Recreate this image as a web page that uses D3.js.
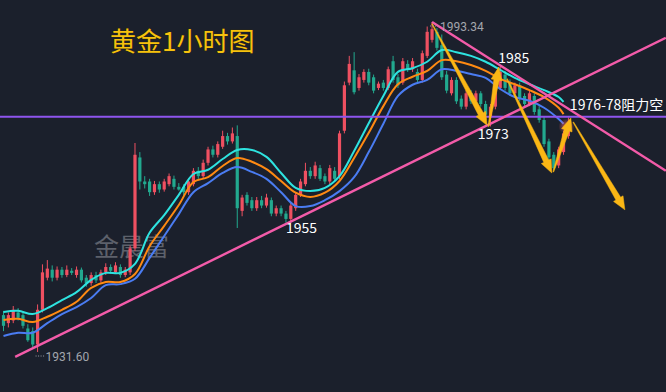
<!DOCTYPE html>
<html>
<head>
<meta charset="utf-8">
<script src="https://cdn.jsdelivr.net/npm/d3@7"></script>
<style>
  html, body { margin: 0; padding: 0; background: #1b202c; }
  svg { display: block; }
</style>
</head>
<body>
<div id="chart"></div>
<script>
// candles, 1 hour, red = up, green = down
const opens = [1938.5,1937.0,1937.5,1939.0,1938.5,1936.0,1935.5,1933.0,1939.5,1945.5,
  1947.0,1945.5,1947.0,1946.0,1946.8,1946.0,1947.0,1945.5,1944.5,1946.0,
  1945.0,1946.5,1947.5,1946.5,1947.5,1946.0,1946.5,1951.0,1968.0,1963.5,
  1963.5,1961.5,1963.0,1962.0,1963.0,1964.0,1962.5,1962.5,1961.5,1963.0,
  1965.5,1964.5,1967.0,1969.5,1968.5,1970.0,1972.0,1971.0,1972.0,1958.0,
  1961.0,1960.0,1958.5,1960.0,1959.0,1960.0,1957.5,1958.5,1957.5,1956.5,
  1958.5,1961.0,1963.0,1965.5,1964.5,1966.0,1964.5,1963.5,1965.5,1964.5,
  1973.0,1982.0,1984.3,1981.0,1982.5,1984.0,1983.0,1981.0,1982.0,1981.0,
  1986.0,1983.0,1982.0,1985.5,1984.5,1984.0,1982.5,1987.0,1990.0,1991.5,
  1989.0,1983.5,1980.0,1982.5,1979.0,1977.5,1980.0,1978.5,1980.0,1978.0,
  1975.5,1977.5,1981.0,1983.5,1982.0,1980.0,1981.5,1979.5,1978.0,1979.5,
  1977.0,1975.0,1971.0,1968.5,1966.5,1969.0,1972.0];
const highs = [1939.3,1939.0,1940.2,1939.8,1939.0,1936.8,1936.2,1940.5,1948.0,1948.8,
  1947.8,1947.6,1947.5,1947.8,1947.3,1947.6,1947.4,1946.0,1946.5,1946.6,
  1947.0,1948.2,1948.0,1948.4,1948.0,1947.5,1951.5,1970.7,1969.0,1964.5,
  1964.0,1963.6,1963.5,1964.0,1965.0,1964.6,1963.2,1963.0,1964.0,1966.0,
  1966.2,1967.6,1970.0,1970.2,1971.0,1973.0,1972.6,1973.6,1974.0,1961.0,
  1961.5,1960.6,1960.6,1960.8,1961.2,1960.5,1959.0,1959.0,1958.0,1959.5,
  1961.5,1964.0,1967.0,1966.2,1967.2,1966.6,1965.0,1966.6,1966.2,1973.0,
  1982.2,1987.0,1987.7,1983.6,1984.5,1984.6,1983.5,1982.2,1982.5,1985.0,
  1987.0,1983.6,1986.6,1986.2,1986.6,1984.6,1988.0,1992.5,1993.34,1992.2,
  1991.0,1984.2,1983.0,1983.0,1979.6,1980.6,1980.6,1980.5,1980.4,1978.6,
  1978.0,1981.5,1985.0,1984.2,1982.6,1982.0,1982.0,1980.0,1980.5,1980.0,
  1977.6,1975.6,1971.5,1969.0,1970.0,1973.0,1975.5];
const lows = [1935.5,1936.2,1937.0,1937.5,1936.0,1933.5,1932.5,1931.6,1939.0,1945.0,
  1944.8,1945.0,1945.5,1945.6,1946.0,1945.5,1944.6,1943.8,1944.0,1944.5,
  1944.6,1946.0,1946.3,1946.2,1945.5,1945.6,1946.0,1950.5,1962.0,1962.2,
  1960.8,1961.0,1961.4,1961.6,1962.6,1962.0,1961.8,1960.8,1961.0,1962.6,
  1964.0,1964.0,1966.5,1968.0,1968.0,1969.6,1970.4,1970.6,1954.8,1957.0,
  1959.0,1958.0,1958.0,1958.5,1958.6,1957.0,1957.0,1957.0,1955.8,1956.0,
  1958.0,1960.6,1962.6,1964.0,1964.0,1963.6,1963.0,1963.0,1963.5,1964.0,
  1972.5,1981.5,1979.8,1980.5,1982.0,1981.5,1980.0,1980.6,1980.5,1980.6,
  1982.0,1981.0,1981.6,1984.0,1984.0,1982.0,1982.0,1986.6,1989.5,1988.0,
  1982.5,1980.0,1979.6,1978.0,1977.0,1977.0,1978.0,1978.0,1977.5,1975.0,
  1973.8,1977.0,1980.6,1980.5,1979.5,1979.5,1978.5,1977.5,1977.6,1976.0,
  1974.5,1970.0,1966.5,1965.6,1966.0,1968.5,1971.5];
const closes = [1936.5,1938.5,1939.5,1938.0,1936.5,1933.8,1933.0,1939.5,1946.5,1947.2,
  1945.5,1947.0,1946.0,1947.0,1946.4,1947.0,1945.0,1944.5,1946.0,1945.0,
  1946.5,1947.5,1946.8,1947.8,1946.0,1947.0,1951.0,1968.5,1963.5,1963.0,
  1961.5,1963.0,1962.0,1963.5,1964.5,1962.5,1962.0,1961.5,1963.5,1965.5,
  1964.5,1967.0,1969.5,1968.5,1970.5,1972.0,1971.0,1972.5,1958.5,1960.5,
  1959.5,1958.5,1960.0,1959.0,1960.5,1957.5,1958.5,1957.5,1956.5,1959.0,
  1961.0,1963.5,1965.5,1964.5,1966.5,1964.0,1963.5,1966.0,1964.0,1972.5,
  1981.5,1985.5,1980.2,1983.0,1984.0,1982.0,1980.5,1981.8,1981.0,1984.5,
  1982.5,1981.5,1986.0,1984.5,1986.0,1982.5,1987.5,1991.5,1992.0,1988.5,
  1983.0,1980.5,1982.5,1978.5,1977.5,1980.0,1978.5,1980.0,1978.0,1976.0,
  1977.5,1981.0,1984.0,1981.0,1980.0,1981.5,1979.0,1978.0,1980.0,1976.5,
  1975.0,1970.5,1968.0,1966.0,1969.5,1972.5,1974.5];

// moving averages at these candle indices
const maIndex = [0,3,6,9,12,15,18,21,24,27,30,33,36,39,42,45,48,51,54,57,
  60,63,66,69,72,75,78,81,84,87,90,93,96,99,102,105,108,111,114,115];
const maFast = [1939.1,1939.3,1938.7,1939.8,1941.3,1942.8,1945.1,1946.4,1946.4,1948.1,
  1953.9,1957.2,1961.0,1964.9,1965.7,1967.7,1969.4,1969.4,1968.1,1965.1,
  1962.3,1961.7,1962.3,1964.5,1969.2,1974.4,1979.5,1984.0,1984.7,1985.9,
  1988.1,1987.7,1987.0,1985.9,1984.4,1982.9,1981.7,1980.6,1979.3,1978.4];
const maMid = [1937.6,1937.8,1937.2,1938.2,1939.5,1941.0,1943.6,1944.7,1944.7,1946.2,
  1951.4,1955.2,1959.1,1963.4,1964.3,1966.4,1967.9,1967.2,1965.8,1963.6,
  1961.4,1960.6,1961.4,1963.6,1967.9,1972.6,1977.6,1981.7,1983.1,1984.2,
  1986.2,1986.0,1985.3,1984.2,1982.7,1981.7,1980.6,1979.3,1977.3,1976.1];
const maSlow = [1934.6,1935.2,1935.2,1937.0,1938.7,1940.0,1941.7,1944.1,1944.3,1945.3,
  1949.2,1953.3,1957.4,1961.5,1963.2,1965.1,1966.2,1965.3,1964.0,1961.5,
  1958.9,1958.9,1960.0,1961.7,1964.3,1969.0,1974.3,1979.5,1981.6,1982.5,
  1984.5,1984.2,1983.6,1982.9,1980.8,1979.3,1978.6,1977.3,1975.2,1974.3];

// trend lines and arrows, as [candle index, price]
const resistanceLevel = 1975.6;
const trendLines = [
  [[2.4, 1930.7], [136, 1990.4]],
  [[88, 1993.34], [136, 1965.5]]
];
const arrows = [
  [[88.0, 1993.0], [99.3, 1974.0]],
  [[99.6, 1973.8], [101.7, 1984.9]],
  [[103.4, 1982.7], [112.6, 1965.1]],
  [[112.9, 1965.3], [116.5, 1975.4]],
  [[117.0, 1974.6], [127.6, 1958.2]]
];
const levelLabels = [
  { text: "1985", at: [101.6, 1985.6] },
  { text: "1973", at: [97.4, 1971.4] },
  { text: "1955", at: [58.0, 1953.9] },
  { text: "1976-78阻力空", at: [116.3, 1976.8] }
];

const width = 666, height = 392;
const svg = d3.select("#chart").append("svg")
  .attr("width", width).attr("height", height);

svg.append("rect").attr("width", width).attr("height", height).attr("fill", "#1b202c");

const xs = d3.scaleLinear().domain([0, 116]).range([3.5, 568.4]);
const ys = d3.scaleLinear().domain([1931.6, 1993.34]).range([352, 22]);
const bodyW = 3.2;

// watermark + title
svg.append("text")
  .attr("x", 94).attr("y", 256)
  .attr("font-family", "Noto Sans CJK SC").attr("font-size", 25)
  .attr("fill", "#5d616b").text("金晨富");

svg.append("text")
  .attr("x", 110).attr("y", 51)
  .attr("font-family", "Noto Sans CJK SC").attr("font-size", 26)
  .attr("fill", "#f6c20e").attr("stroke", "#3a2c00").attr("stroke-width", 0.6)
  .attr("paint-order", "stroke")
  .text("黄金1小时图");

// candles
const idx = d3.range(opens.length);
const cg = svg.append("g");
const up = (i) => closes[i] >= opens[i];
const col = (i) => (up(i) ? "#ef5061" : "#22a98f");
cg.selectAll("line").data(idx).join("line")
  .attr("x1", (i) => xs(i)).attr("x2", (i) => xs(i))
  .attr("y1", (i) => ys(highs[i])).attr("y2", (i) => ys(lows[i]))
  .attr("stroke", col).attr("stroke-width", 1);
cg.selectAll("rect").data(idx).join("rect")
  .attr("x", (i) => xs(i) - bodyW / 2)
  .attr("width", bodyW)
  .attr("y", (i) => ys(Math.max(opens[i], closes[i])))
  .attr("height", (i) => Math.max(1, Math.abs(ys(opens[i]) - ys(closes[i]))))
  .attr("fill", col);

// moving averages
const ma = d3.line()
  .x((d) => xs(d[0])).y((d) => ys(d[1]))
  .curve(d3.curveCatmullRom.alpha(0.5));
[[maSlow, "#4a7cf2"], [maMid, "#ff8a12"], [maFast, "#2ee3e0"]].forEach(([vals, c]) => {
  svg.append("path")
    .attr("d", ma(maIndex.map((k, j) => [k, vals[j]])))
    .attr("fill", "none").attr("stroke", c).attr("stroke-width", 2);
});

// glow at last candle
const defs = svg.append("defs");
const rg = defs.append("radialGradient").attr("id", "glow");
rg.append("stop").attr("offset", "0%").attr("stop-color", "#ff6a6a").attr("stop-opacity", 0.8);
rg.append("stop").attr("offset", "100%").attr("stop-color", "#ff6a6a").attr("stop-opacity", 0);
svg.append("circle")
  .attr("cx", xs(115.6)).attr("cy", ys(1973.8)).attr("r", 8)
  .attr("fill", "url(#glow)");

// resistance level
svg.append("line")
  .attr("x1", 0).attr("x2", width)
  .attr("y1", ys(resistanceLevel)).attr("y2", ys(resistanceLevel))
  .attr("stroke", "#8f55ee").attr("stroke-width", 2);

// trend lines
svg.append("g").selectAll("line").data(trendLines).join("line")
  .attr("x1", (d) => xs(d[0][0])).attr("y1", (d) => ys(d[0][1]))
  .attr("x2", (d) => xs(d[1][0])).attr("y2", (d) => ys(d[1][1]))
  .attr("stroke", "#f35ba9").attr("stroke-width", 2.4);

// tapered arrows
function arrowPath([a, b]) {
  const x0 = xs(a[0]), y0 = ys(a[1]), x1 = xs(b[0]), y1 = ys(b[1]);
  const len = Math.hypot(x1 - x0, y1 - y0);
  const ux = (x1 - x0) / len, uy = (y1 - y0) / len;
  const nx = -uy, ny = ux;
  const headL = 13, headW = 11, w0 = 0.8, w1 = 5.5;
  const kx = x1 - ux * headL, ky = y1 - uy * headL;
  const p = [
    [x0 + nx * w0 / 2, y0 + ny * w0 / 2],
    [kx + nx * w1 / 2, ky + ny * w1 / 2],
    [kx + nx * headW / 2, ky + ny * headW / 2],
    [x1, y1],
    [kx - nx * headW / 2, ky - ny * headW / 2],
    [kx - nx * w1 / 2, ky - ny * w1 / 2],
    [x0 - nx * w0 / 2, y0 - ny * w0 / 2]
  ];
  return "M" + p.map((q) => q.join(",")).join("L") + "Z";
}
svg.append("g").selectAll("path").data(arrows).join("path")
  .attr("d", arrowPath)
  .attr("fill", "#fbb715").attr("stroke", "#fbb715").attr("stroke-width", 0.5);

// high / low marks
const hi = highs.indexOf(d3.max(highs));
const lo = lows.indexOf(d3.min(lows));
[[hi, highs[hi], 9], [lo, lows[lo], 9]].forEach(([i, v, dy]) => {
  const x = xs(i), y = ys(v) + dy;
  svg.append("line")
    .attr("x1", x - 2).attr("x2", x + 7).attr("y1", y - 5).attr("y2", y - 5)
    .attr("stroke", "#9a9ea6").attr("stroke-width", 1).attr("stroke-dasharray", "1,1.5");
  svg.append("text")
    .attr("x", x + 8).attr("y", y)
    .attr("font-family", "Roboto, Noto Sans").attr("font-size", 12)
    .attr("fill", "#a3a6ad").text(v.toFixed(2));
});

// level labels
svg.append("g").selectAll("text").data(levelLabels).join("text")
  .attr("x", (d) => xs(d.at[0])).attr("y", (d) => ys(d.at[1]))
  .attr("font-family", "Noto Sans CJK SC").attr("font-size", 14)
  .attr("fill", "#ffffff").text((d) => d.text);
</script>
</body>
</html>
